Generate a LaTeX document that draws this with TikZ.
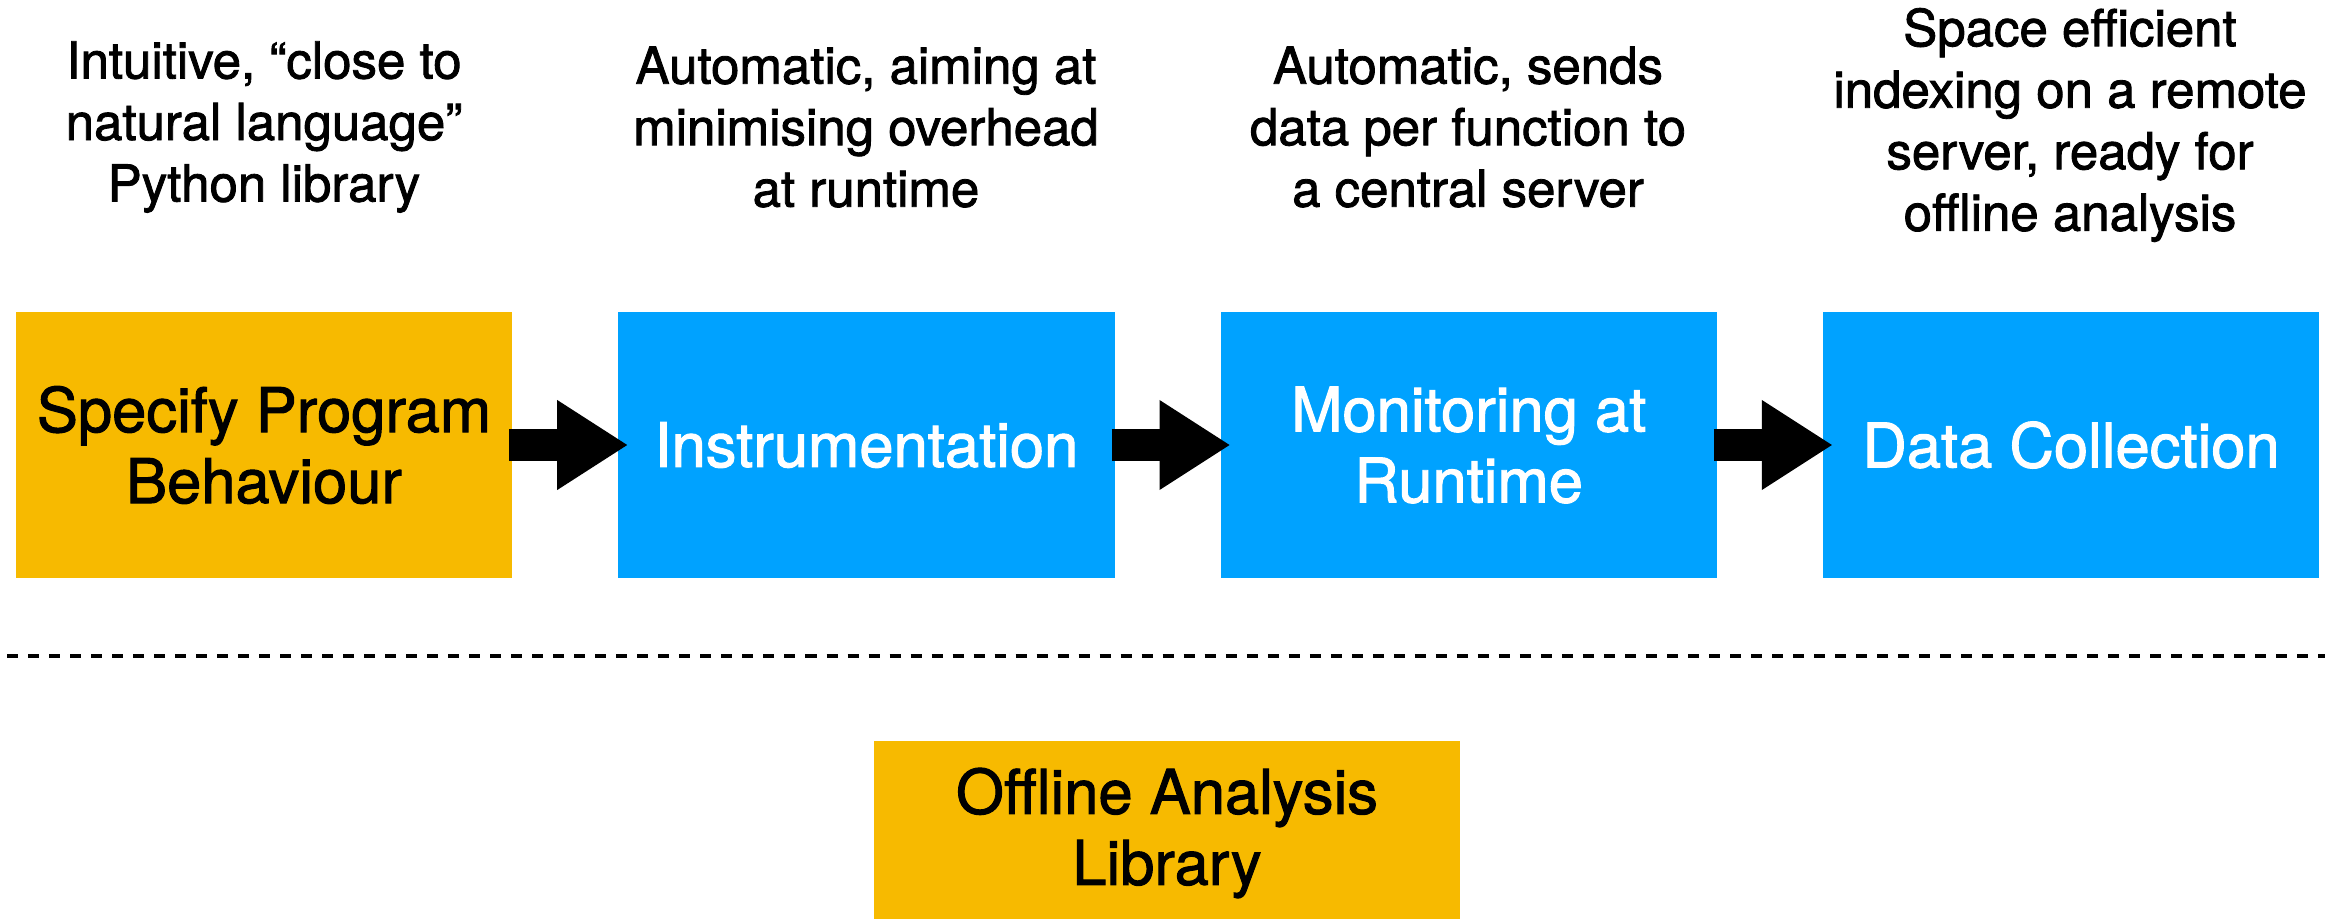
\documentclass[tikz,border=0pt]{standalone}
\usepackage{fontspec}
\setmainfont{TeX Gyre Heros}[FakeBold=1.6]
\usetikzlibrary{positioning,arrows.meta}

\definecolor{stageorange}{RGB}{247,186,0}
\definecolor{stageblue}{RGB}{0,162,255}

\newcommand*\stagewidth{4.96cm}
\newcommand*\stageheight{2.66cm}
\tikzset{stage/.style 2 args={
    rectangle,
    fill=#1,
    text=#2,
    inner sep=0pt,
    outer sep=0pt,
    minimum width=\stagewidth,
    minimum height=\stageheight,
    font=\fontsize{17.5}{20.2}\selectfont,
    align=center
}}
\tikzset{note/.style={
    font=\fontsize{14.5}{17.5}\selectfont,
    inner sep=0pt,
    align=center
}}
\tikzset{flow/.style={
    line width=0.31cm,
    shorten <=-0.03cm,
    shorten >=-0.09cm,
    -{Triangle[length=0.70cm,width=0.90cm,line width=0pt]}
}}

\begin{document}
\begin{tikzpicture}[x=0.01cm,y=-0.01cm]
    \useasboundingbox (0,0) rectangle (2333,918);

    % The four stages, left to right.
    \node[stage={stageorange}{black}] (spec) at (264,445) {Specify Program\\Behaviour};
    \node[stage={stageblue}{white}, right=1.06cm of spec] (instr) {Instrumentation};
    \node[stage={stageblue}{white}, right=1.06cm of instr] (monitor) {Monitoring at\\Runtime};
    \node[stage={stageblue}{white}, right=1.06cm of monitor] (collect) {Data Collection};

    % A short note above each stage.
    \node[note] (specnote) at (264,127) {Intuitive, “close to\\natural language”\\Python library};
    \node[note] (instrnote) at (866,127) {Automatic, aiming at\\minimising overhead\\at runtime};
    \node[note] (monitornote) at (1468,127) {Automatic, sends\\data per function to\\a central server};
    \node[note] (collectnote) at (2070,125) {Space efficient\\indexing on a remote\\server, ready for\\offline analysis};

    % Block arrows between the stages.
    \draw[flow] (spec.east) -- (instr.west);
    \draw[flow] (instr.east) -- (monitor.west);
    \draw[flow] (monitor.east) -- (collect.west);

    % Separator and the offline part.
    \draw[line width=0.04cm, dash pattern=on 0.11cm off 0.10cm] (7,656) -- (2325,656);
    \node[stage={stageorange}{black}, minimum width=5.85cm, minimum height=1.84cm] (offline) at (1167,833) {Offline Analysis\\Library};
\end{tikzpicture}
\end{document}
